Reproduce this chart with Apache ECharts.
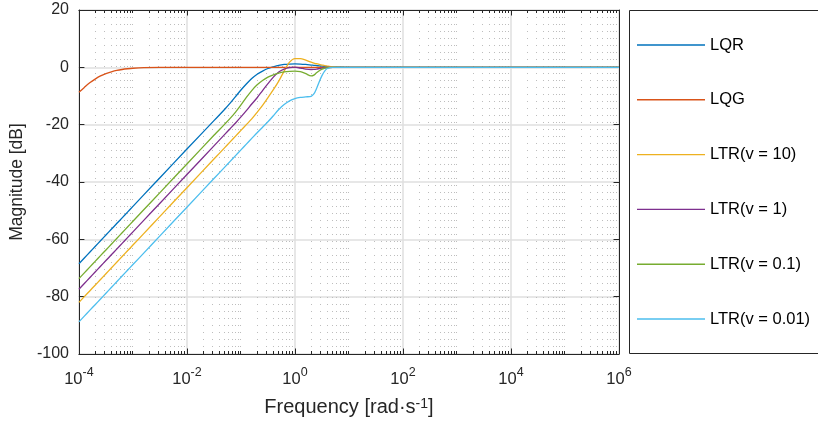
<!DOCTYPE html>
<html>
<head>
<meta charset="utf-8">
<script src="https://cdn.jsdelivr.net/npm/echarts@6/dist/echarts.min.js"></script>
<style>
html,body{margin:0;padding:0;background:#fff;}
#chart{width:818px;height:423px;}
</style>
</head>
<body>
<div id="chart"></div>
<script>
// log10 of frequency [rad/s] at the sampled points
const logFreq = [-4,-3.9,-3.8,-3.7,-3.6,-3.5,-3.4,-3.3,-3.2,-3.1,-3,
  -2.8,-2.5,-2,-1.5,-1.3,-1.2,-1.1,
  -1,-0.9,-0.8,-0.7,-0.6,-0.5,-0.4,-0.3,-0.2,-0.1,0,
  0.1,0.2,0.3,
  0.35,0.4,0.45,0.5,0.55,0.6,
  0.7,0.8,0.9,1,
  2,3,4,5,6];

const seriesNames = ['LQR','LQG','LTR(v = 10)','LTR(v = 1)','LTR(v = 0.1)','LTR(v = 0.01)'];

const magLQR = [-68.5,-66.5,-64.5,-62.5,-60.5,-58.5,-56.5,-54.5,-52.5,-50.5,-48.5,
  -44.5,-38.5,-28.5,-18.6,-14.6,-12.5,-10.2,
  -7.9,-5.8,-3.9,-2.4,-1.3,-0.4,0.2,0.7,1.0,1.15,1.2,
  1.15,1.0,0.8,
  0.7,0.6,0.5,0.4,0.32,0.25,
  0.12,0.05,0.02,0,
  0,0,0,0,0];

const magLQG = [-8.7,-7.0,-5.4,-4.1,-3.0,-2.2,-1.6,-1.1,-0.75,-0.5,-0.32,
  -0.13,-0.03,0,0,0,0,0,
  0,0,0,0,0,0,0,0,0,0,0,
  0,0,0,
  0,0,0,0,0,0,
  0,0,0,0,
  0,0,0,0,0];

const magLTR10 = [-82,-80,-78,-76,-74,-72,-70,-68,-66,-64,-62,
  -58,-52,-42,-32,-28,-26,-24,
  -22,-20,-18,-15.7,-13.3,-10.6,-7.8,-4.8,-1.3,1.8,3.05,
  3.05,2.5,1.8,
  1.5,1.25,1.0,0.8,0.6,0.45,
  0.2,0.05,0,0,
  0,0,0,0,0];

const magLTR1 = [-77.4,-75.4,-73.4,-71.4,-69.4,-67.4,-65.4,-63.4,-61.4,-59.4,-57.4,
  -53.4,-47.4,-37.4,-27.4,-23.4,-21.4,-19.4,
  -17.3,-15.1,-12.8,-10.6,-8.1,-5.7,-3.4,-1.6,-0.6,-0.1,0.05,
  -0.25,-0.6,-0.75,
  -0.7,-0.6,-0.45,-0.3,-0.15,-0.05,
  0,0,0,0,
  0,0,0,0,0];

const magLTR01 = [-73.7,-71.7,-69.7,-67.7,-65.7,-63.7,-61.7,-59.7,-57.7,-55.7,-53.7,
  -49.7,-43.7,-33.7,-23.7,-19.8,-17.8,-15.6,
  -13.1,-10.5,-8.1,-6.1,-4.6,-3.4,-2.6,-2.0,-1.6,-1.4,-1.3,
  -1.5,-2.2,-3.0,
  -2.7,-1.9,-1.2,-0.6,-0.3,-0.1,
  0,0,0,0,
  0,0,0,0,0];

const magLTR001 = [-88.8,-86.8,-84.8,-82.8,-80.8,-78.8,-76.8,-74.8,-72.8,-70.8,-68.8,
  -64.8,-58.8,-48.8,-38.8,-34.8,-32.8,-30.8,
  -28.8,-26.8,-24.8,-22.8,-20.9,-19.0,-16.9,-14.7,-13.0,-11.7,-10.9,
  -10.5,-10.3,-10.1,
  -9.3,-7.4,-5.0,-2.9,-1.3,-0.4,
  0,0,0,0,
  0,0,0,0,0];

const xMin = -4, xMax = 6, xStep = 2;   // decades
const yMin = -100, yMax = 20, yStep = 20;

const colors = ['#0072BD','#D95319','#EDB120','#7E2F8E','#77AC30','#4DBEEE'];
const allMags = [magLQR, magLQG, magLTR10, magLTR1, magLTR01, magLTR001];

// minor decade positions (log-spaced 2..9 and odd decades)
const minorPos = [];
for (let d = xMin; d < xMax; d++) {
  for (let k = 1; k < 10; k++) {
    if (k === 1 && (d - xMin) % xStep === 0) continue;
    minorPos.push([d + Math.log10(k), 0]);
  }
}

const FONT = '"Liberation Sans", Arial, Helvetica, sans-serif';
const TXT = '#262626';

const chart = echarts.init(document.getElementById('chart'), null, {renderer: 'canvas'});

const lineSeries = seriesNames.map((name, i) => ({
  name: name,
  type: 'line',
  data: logFreq.map((x, j) => [x, allMags[i][j]]),
  symbol: 'none',
  smooth: 0.3,
  lineStyle: {color: colors[i], width: 1.3},
  itemStyle: {color: colors[i]},
  z: 3 + i,
  animation: false
}));

const crisp = v => Math.round(v - 0.5) + 0.5;

const minorSeries = {
  type: 'custom',
  name: '_minor',
  silent: true,
  animation: false,
  z: 1,
  data: minorPos,
  renderItem: function (params, api) {
    const v = api.value(0);
    const p0 = api.coord([v, yMin]);
    const p1 = api.coord([v, yMax]);
    const x = crisp(p0[0]);
    return {
      type: 'group',
      children: [
        {type: 'line', shape: {x1: x, y1: p0[1], x2: x, y2: p1[1]},
          style: {stroke: '#bdbdbd', lineWidth: 1, lineDash: [1, 6]}},
        {type: 'line', shape: {x1: x, y1: p0[1], x2: x, y2: p0[1] - 3},
          style: {stroke: TXT, lineWidth: 1}},
        {type: 'line', shape: {x1: x, y1: p1[1], x2: x, y2: p1[1] + 3},
          style: {stroke: TXT, lineWidth: 1}}
      ]
    };
  }
};

chart.setOption({
  backgroundColor: '#ffffff',
  animation: false,
  textStyle: {fontFamily: FONT},
  grid: {left: 72, right: 199, top: 10, bottom: 69, containLabel: false},
  graphic: [{
    type: 'rect',
    z: 0,
    shape: {x: 629.5, y: 10.5, width: 200, height: 343},
    style: {fill: '#ffffff', stroke: TXT, lineWidth: 1}
  }],
  legend: {
    data: seriesNames,
    orient: 'vertical',
    left: 637,
    top: 35,
    padding: 0,
    icon: 'rect',
    itemWidth: 68,
    itemHeight: 1.4,
    itemGap: 34.8,
    textStyle: {fontFamily: FONT, fontSize: 16.5, color: '#000', lineHeight: 20},
    selectedMode: false
  },
  xAxis: [{
    type: 'value',
    min: xMin, max: xMax, interval: xStep,
    position: 'bottom',
    name: 'Frequency [rad·s{sup|-1}]',
    nameLocation: 'middle',
    nameGap: 43,
    nameTextStyle: {
      fontFamily: FONT, fontSize: 20, color: TXT,
      rich: {sup: {fontFamily: FONT, fontSize: 14, verticalAlign: 'top', lineHeight: 14, color: TXT}}
    },
    axisLine: {show: true, onZero: false, lineStyle: {color: TXT, width: 1}},
    axisTick: {show: true, inside: true, length: 5.5, lineStyle: {color: TXT}},
    axisLabel: {
      show: true, margin: 12, showMinLabel: true, showMaxLabel: true,
      formatter: v => '{b|10}{s|' + v + '}',
      rich: {
        b: {fontFamily: FONT, fontSize: 16.5, color: TXT, lineHeight: 26},
        s: {fontFamily: FONT, fontSize: 12.5, color: TXT, lineHeight: 12, verticalAlign: 'top'}
      }
    },
    splitLine: {show: true, lineStyle: {color: '#dfdfdf', width: 1.5}}
  }, {
    type: 'value',
    min: xMin, max: xMax, interval: xStep,
    position: 'top',
    axisLine: {show: true, onZero: false, lineStyle: {color: TXT, width: 1}},
    axisTick: {show: true, inside: true, length: 5.5, lineStyle: {color: TXT}},
    axisLabel: {show: false},
    splitLine: {show: false}
  }],
  yAxis: [{
    type: 'value',
    min: yMin, max: yMax, interval: yStep,
    position: 'left',
    name: 'Magnitude [dB]',
    nameLocation: 'middle',
    nameGap: 47,
    nameTextStyle: {fontFamily: FONT, fontSize: 17.5, color: TXT},
    axisLine: {show: true, onZero: false, lineStyle: {color: TXT, width: 1}},
    axisTick: {show: true, inside: true, length: 5.5, lineStyle: {color: TXT}},
    axisLabel: {show: true, margin: 10, fontFamily: FONT, fontSize: 16, color: TXT},
    splitLine: {show: true, lineStyle: {color: '#dfdfdf', width: 1.5}}
  }, {
    type: 'value',
    min: yMin, max: yMax, interval: yStep,
    position: 'right',
    axisLine: {show: true, onZero: false, lineStyle: {color: TXT, width: 1}},
    axisTick: {show: true, inside: true, length: 5.5, lineStyle: {color: TXT}},
    axisLabel: {show: false},
    splitLine: {show: false}
  }],
  series: [minorSeries].concat(lineSeries)
});
</script>
</body>
</html>
